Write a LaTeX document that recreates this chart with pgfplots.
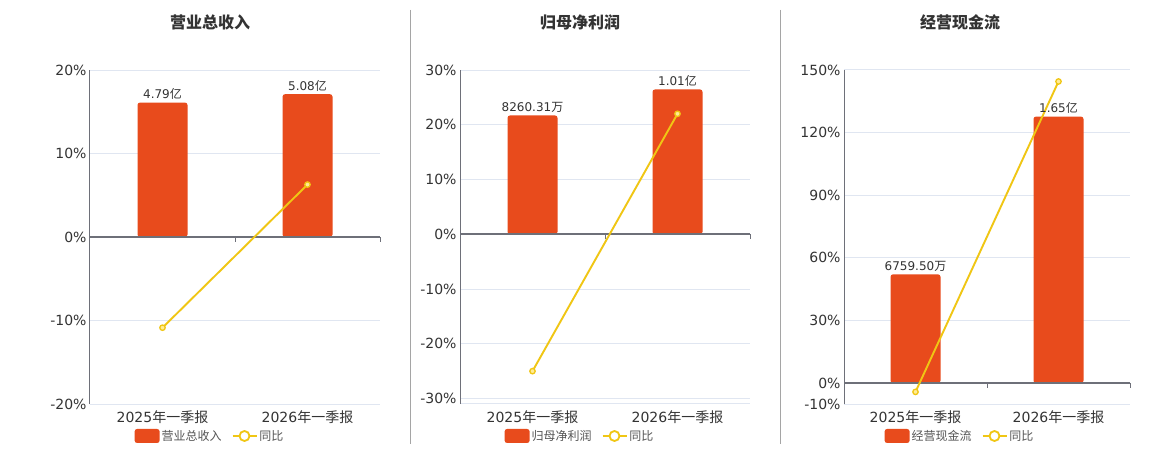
\documentclass[border=0pt]{standalone}
\usepackage{fontspec}
\usepackage{pgfplots}
\pgfplotsset{compat=1.18}
\setmainfont{DejaVu Sans}
\newfontfamily\cjk{Noto Sans CJK SC}
\definecolor{barc}{RGB}{232,75,28}
\definecolor{linec}{RGB}{240,198,20}
\definecolor{markfill}{RGB}{255,236,150}
\definecolor{gridc}{RGB}{224,230,241}
\definecolor{axisc}{RGB}{110,112,121}
\definecolor{labc}{RGB}{51,51,51}
\definecolor{legc}{RGB}{85,85,85}
\definecolor{sepc}{RGB}{165,165,165}
\pgfplotsset{
  panel/.style={
    scale only axis, width=290pt, height=334pt,
    xmin=-0.5, xmax=1.5, xtick={0,1},
    axis x line*=bottom, axis y line*=left,
    axis line style={-},
    x axis line style={draw=gridc, line width=1pt},
    y axis line style={draw=axisc, line width=1pt},
    ymajorgrids, grid style={draw=gridc, line width=1pt},
    major tick length=0pt,
    tick label style={font=\fontsize{14}{16}\selectfont, text=labc},
    xticklabel style={yshift=-3pt},
    xticklabels={2025{\cjk 年一季报}, 2026{\cjk 年一季报}},
    legend style={draw=none, fill=none, legend columns=2,
      font=\cjk\fontsize{12}{14}\selectfont, text=legc, anchor=center,
      /tikz/every even column/.append style={column sep=8pt}},
    title style={font=\cjk\bfseries\fontsize{16}{18}\selectfont, text=labc, anchor=center},
    clip=false,
  },
  barplot/.style={ybar, bar width=50pt, fill=barc, draw=none, rounded corners=2.5pt,
    nodes near coords, point meta=explicit symbolic,
    every node near coord/.style={font=\fontsize{12}{14}\selectfont, text=labc, inner sep=3pt},
    legend image code/.code={\fill[barc, rounded corners=2.5pt] (0pt,-7pt) rectangle (25pt,7pt);}},
  lineplot/.style={linec, line width=1.9pt, mark=*, mark size=2.7pt,
    mark options={fill=markfill, draw=linec, line width=1.3pt},
    legend image code/.code={\draw[linec, line width=1.8pt] (0pt,0pt) -- (24pt,0pt);
      \draw[linec, line width=1.8pt, fill=white] (12pt,0pt) circle (5pt);}},
}
\begin{document}
\begin{tikzpicture}
\path[fill=white, use as bounding box] (0pt,0pt) rectangle (1160pt,450pt);
\draw[sepc, line width=1pt] (410.5pt,440pt) -- (410.5pt,6pt);
\draw[sepc, line width=1pt] (780.5pt,440pt) -- (780.5pt,6pt);

% Panel 1
\begin{axis}[panel, at={(90pt,46pt)}, anchor=south west,
  ymin=-20, ymax=20, ytick={-20,-10,0,10,20},
  yticklabels={-20\%,-10\%,0\%,10\%,20\%},
  title={营业总收入}, title style={at={(0.4138,1.1257)}},
  legend style={at={(0.4138,-0.0958)}}]
\addplot[barplot] coordinates {(0,16.1)[4.79{\cjk 亿}] (1,17.1)[5.08{\cjk 亿}]};
\addlegendentry{营业总收入}
\draw[axisc, line width=1.8pt] (axis cs:-0.5,0) -- (axis cs:1.5,0);
\draw[axisc, line width=1pt] (axis cs:0.5,0) -- ++(0pt,-5pt);
\draw[axisc, line width=1pt] (axis cs:1.5,0) -- ++(0pt,-5pt);
\addplot[lineplot] coordinates {(0,-10.86) (1,6.28)};
\addlegendentry{同比}
\end{axis}

% Panel 2
\begin{axis}[panel, at={(460pt,46pt)}, anchor=south west,
  ymin=-31, ymax=30, ytick={-30,-20,-10,0,10,20,30},
  yticklabels={-30\%,-20\%,-10\%,0\%,10\%,20\%,30\%},
  title={归母净利润}, title style={at={(0.4138,1.1257)}},
  legend style={at={(0.4138,-0.0958)}}]
\addplot[barplot] coordinates {(0,21.7)[8260.31{\cjk 万}] (1,26.45)[1.01{\cjk 亿}]};
\addlegendentry{归母净利润}
\draw[axisc, line width=1.8pt] (axis cs:-0.5,0) -- (axis cs:1.5,0);
\draw[axisc, line width=1pt] (axis cs:0.5,0) -- ++(0pt,-5pt);
\draw[axisc, line width=1pt] (axis cs:1.5,0) -- ++(0pt,-5pt);
\addplot[lineplot] coordinates {(0,-25.0) (1,22.0)};
\addlegendentry{同比}
\end{axis}

% Panel 3
\begin{axis}[panel, at={(844pt,46pt)}, anchor=south west, width=286pt,
  ymin=-10, ymax=150, ytick={-10,0,30,60,90,120,150},
  yticklabels={-10\%,0\%,30\%,60\%,90\%,120\%,150\%},
  title={经营现金流}, title style={at={(0.4056,1.1257)}},
  legend style={at={(0.4056,-0.0958)}}]
\addplot[barplot] coordinates {(0,52.1)[6759.50{\cjk 万}] (1,127.7)[1.65{\cjk 亿}]};
\addlegendentry{经营现金流}
\draw[axisc, line width=1.8pt] (axis cs:-0.5,0) -- (axis cs:1.5,0);
\draw[axisc, line width=1pt] (axis cs:0.5,0) -- ++(0pt,-5pt);
\draw[axisc, line width=1pt] (axis cs:1.5,0) -- ++(0pt,-5pt);
\addplot[lineplot] coordinates {(0,-4.2) (1,144.5)};
\addlegendentry{同比}
\end{axis}
\end{tikzpicture}
\end{document}
